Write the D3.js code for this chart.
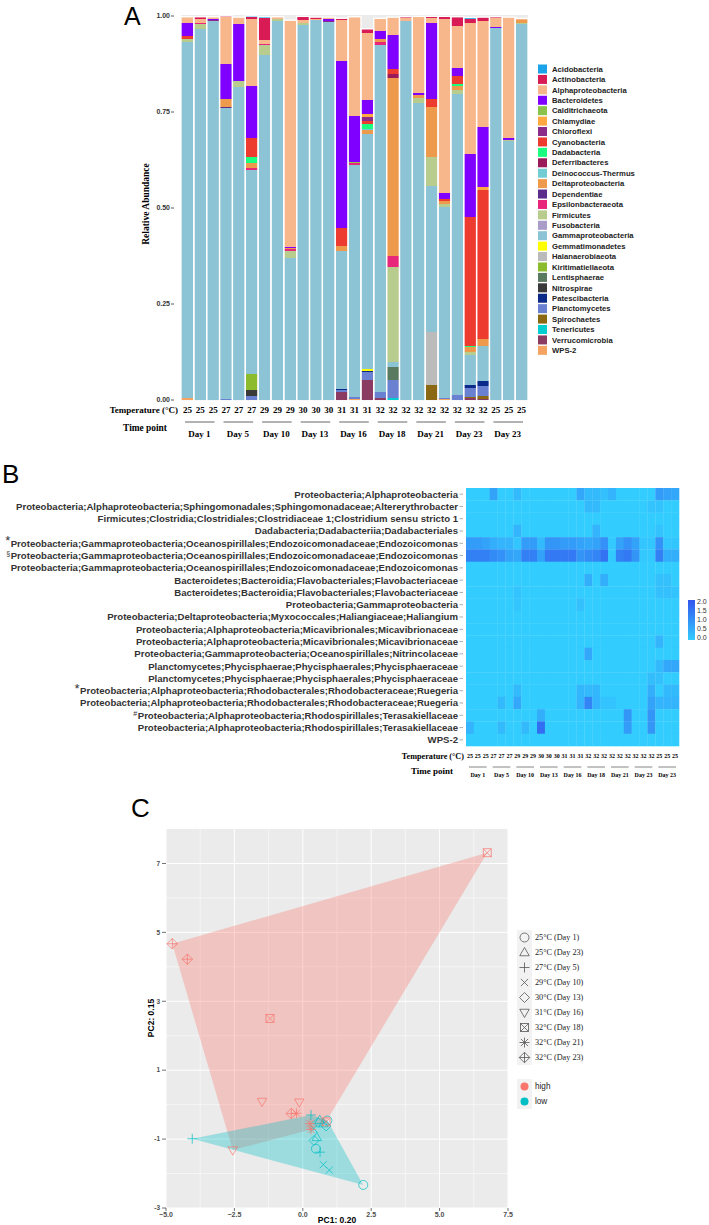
<!DOCTYPE html>
<html><head><meta charset="utf-8">
<script src="https://cdn.jsdelivr.net/npm/d3@7"></script>
<style>body{margin:0;background:#fff}svg{display:block}</style>
</head><body>
<svg id="c" width="709" height="1225"></svg>
<script>
// ================= DATA =================
const phyla = ["Acidobacteria","Actinobacteria","Alphaproteobacteria","Bacteroidetes","Calditrichaeota","Chlamydiae","Chloroflexi","Cyanobacteria","Dadabacteria","Deferribacteres","Deinococcus-Thermus","Deltaproteobacteria","Dependentiae","Epsilonbacteraeota","Firmicutes","Fusobacteria","Gammaproteobacteria","Gemmatimonadetes","Halanaerobiaeota","Kiritimatiellaeota","Lentisphaerae","Nitrospirae","Patescibacteria","Planctomycetes","Spirochaetes","Tenericutes","Verrucomicrobia","WPS-2"];
const phylaColors = ["#1AA3E8","#D81B55","#F8B78A","#8000FF","#8BC34A","#FFA940","#8B2C8B","#EE3B30","#1AFF80","#9B1B5A","#72CCD4","#EE9A4D","#5B2C8B","#E8277A","#B8CC8E","#A99CC8","#8CC3D5","#FFFF00","#BBBBBB","#8DBB2E","#5A7A60","#3A3A3A","#0B2A8A","#6A80D0","#8B6914","#00CED1","#8B3A62","#F4A460"];
const temperatures = [25,25,25,27,27,27,29,29,29,30,30,30,31,31,31,32,32,32,32,32,32,32,32,32,25,25,25];
const dayLabels = ["Day 1","Day 5","Day 10","Day 13","Day 16","Day 18","Day 21","Day 23","Day 23"];

// relative abundance per phylum (27 samples each)
const acidobacteria    = [0,0,0,0,0,.003,.003,0,0,0,0,0,0,0,0,0,0,0,0,0,0,0,.003,0,0,0,0];
const actinobacteria   = [0,.007,0,.003,0,.005,.057,0,0,.009,.004,0,.004,0,.0095,0,0,.003,0,.003,.006,.024,.011,.009,.003,0,0];
const alphaproteo      = [.016,.009,.005,.122,.017,.175,.010,.006,.590,.007,.003,.006,.107,.259,.175,.033,.046,.007,.200,.013,.454,.109,.341,.276,.023,.314,.005];
const bacteroidetes    = [.033,0,.004,.091,.150,.134,0,0,.004,0,0,.003,.434,.119,.036,.021,.090,0,.006,.199,.016,.021,.165,.158,.004,.005,0];
const calditrichaeota  = [0,0,0,0,0,0,0,0,0,0,0,0,0,.003,0,0,0,0,0,0,0,0,0,0,0,0,0];
const chlamydiae       = [0,0,0,0,0,0,0,0,0,0,0,0,0,0,.010,0,0,0,0,0,0,0,0,.007,0,0,0];
const chloroflexi      = [0,0,.002,0,0,0,0,0,0,0,0,.003,0,0,.009,0,0,0,0,0,0,0,0,0,0,0,0];
const cyanobacteria    = [.009,0,0,0,0,.049,0,0,0,0,0,0,.048,0,.007,0,.011,0,0,.022,.005,.020,.335,.389,0,0,0];
const dadabacteria     = [0,0,0,0,0,.016,0,0,0,0,0,0,0,0,.013,0,0,0,0,0,0,.005,.004,0,0,0,0];
const deferribacteres  = [0,0,0,0,0,0,0,0,0,0,0,0,0,0,0,0,.011,0,0,0,0,0,0,0,0,0,0];
const deinococcus      = [0,0,0,0,0,0,0,0,0,0,0,0,0,0,.004,0,0,0,0,0,0,0,0,0,0,0,0];
const deltaproteo      = [0,0,0,.020,0,.014,0,0,.003,0,0,0,.012,0,.010,.009,.464,0,.007,.128,.007,.012,.012,.017,0,0,.006];
const dependentiae     = [0,0,0,.004,0,0,0,0,0,0,0,0,0,0,0,0,0,0,0,0,0,0,0,0,0,0,0];
const epsilonbact      = [0,.003,0,0,0,.004,.004,0,.003,0,0,0,0,.005,0,.006,.028,0,0,0,0,0,0,0,0,0,0];
const firmicutes       = [.007,.014,0,0,.016,0,.026,.004,.020,.006,0,0,0,0,0,0,.247,0,.013,.078,.009,.010,.009,0,0,.004,.004];
const fusobacteria     = [0,0,0,0,0,0,0,0,0,0,0,0,0,0,0,0,0,0,0,0,0,0,0,0,0,0,0];
const gammaproteo      = [.928,.965,.987,.757,.814,.531,.898,.988,.369,.977,.990,.985,.360,.605,.612,.905,.013,.988,.773,.380,.496,.785,.078,.091,.968,.674,.979];
const gemmatimonadetes = [0,0,0,0,0,0,0,0,0,0,0,0,0,0,.005,0,0,0,0,0,0,0,0,0,0,0,0];
const halanaerobiaeota = [0,0,0,0,0,0,0,0,0,0,0,0,0,0,0,0,0,0,0,.137,0,0,0,0,0,0,0];
const kiritimatiellae  = [0,0,0,0,0,.042,0,0,0,0,0,0,0,0,0,0,0,0,0,0,0,0,0,0,0,0,0];
const lentisphaerae    = [0,0,0,0,0,0,0,0,0,0,0,0,0,0,0,0,.035,0,0,0,0,0,0,0,0,0,0];
const nitrospirae      = [0,0,0,0,0,.016,0,0,0,0,0,0,0,0,0,0,0,0,0,0,0,0,0,0,0,0,0];
const patescibacteria  = [0,0,0,0,0,0,0,0,0,0,0,0,.004,0,.004,0,0,0,0,0,0,0,.006,.014,0,0,0];
const planctomycetes   = [0,0,0,.003,0,.011,0,0,0,0,0,0,.004,.004,.020,.016,.046,0,0,0,.003,.012,.023,.026,0,0,0];
const spirochaetes     = [0,0,0,0,0,0,0,0,0,0,0,0,0,0,0,0,0,0,0,.039,0,0,.005,.007,0,0,0];
const tenericutes      = [0,0,0,0,0,0,0,0,0,0,0,0,0,0,0,0,.006,0,0,0,0,0,0,0,0,0,0];
const verrucomicrobia  = [0,0,0,0,0,0,0,0,0,0,0,0,.021,0,.052,.004,0,0,0,0,0,0,.004,.003,0,0,0];
const wps2             = [.005,0,0,0,0,0,0,0,0,0,0,0,0,.003,0,0,0,0,0,0,.003,0,0,0,0,0,0];
const abundanceSeries = [acidobacteria,actinobacteria,alphaproteo,bacteroidetes,calditrichaeota,chlamydiae,chloroflexi,cyanobacteria,dadabacteria,deferribacteres,deinococcus,deltaproteo,dependentiae,epsilonbact,firmicutes,fusobacteria,gammaproteo,gemmatimonadetes,halanaerobiaeota,kiritimatiellae,lentisphaerae,nitrospirae,patescibacteria,planctomycetes,spirochaetes,tenericutes,verrucomicrobia,wps2];

// heatmap (panel B)
const taxaLabels = [
 "Proteobacteria;Alphaproteobacteria",
 "Proteobacteria;Alphaproteobacteria;Sphingomonadales;Sphingomonadaceae;Altererythrobacter",
 "Firmicutes;Clostridia;Clostridiales;Clostridiaceae 1;Clostridium sensu stricto 1",
 "Dadabacteria;Dadabacteriia;Dadabacteriales",
 "Proteobacteria;Gammaproteobacteria;Oceanospirillales;Endozoicomonadaceae;Endozoicomonas",
 "Proteobacteria;Gammaproteobacteria;Oceanospirillales;Endozoicomonadaceae;Endozoicomonas",
 "Proteobacteria;Gammaproteobacteria;Oceanospirillales;Endozoicomonadaceae;Endozoicomonas",
 "Bacteroidetes;Bacteroidia;Flavobacteriales;Flavobacteriaceae",
 "Bacteroidetes;Bacteroidia;Flavobacteriales;Flavobacteriaceae",
 "Proteobacteria;Gammaproteobacteria",
 "Proteobacteria;Deltaproteobacteria;Myxococcales;Haliangiaceae;Haliangium",
 "Proteobacteria;Alphaproteobacteria;Micavibrionales;Micavibrionaceae",
 "Proteobacteria;Alphaproteobacteria;Micavibrionales;Micavibrionaceae",
 "Proteobacteria;Gammaproteobacteria;Oceanospirillales;Nitrincolaceae",
 "Planctomycetes;Phycisphaerae;Phycisphaerales;Phycisphaeraceae",
 "Planctomycetes;Phycisphaerae;Phycisphaerales;Phycisphaeraceae",
 "Proteobacteria;Alphaproteobacteria;Rhodobacterales;Rhodobacteraceae;Ruegeria",
 "Proteobacteria;Alphaproteobacteria;Rhodobacterales;Rhodobacteraceae;Ruegeria",
 "Proteobacteria;Alphaproteobacteria;Rhodospirillales;Terasakiellaceae",
 "Proteobacteria;Alphaproteobacteria;Rhodospirillales;Terasakiellaceae",
 "WPS-2"];
const taxaMarks = ["","","","","*","§","","","","","","","","","","","*","","#","",""];
const heatValues = [
 [0,0,0,.7,0,0,.3,0,0,0,0,0,0,0,.6,.3,.3,.2,.4,0,0,0,0,0,.8,.7,.6],
 [0,0,0,0,0,0,0,0,0,0,0,0,0,0,0,.3,.3,0,0,0,0,0,0,.15,.15,0,0],
 [0,0,0,0,0,0,0,0,0,0,0,0,0,0,0,0,0,0,0,0,0,0,0,0,0,0,0],
 [0,0,0,0,0,0,.4,0,0,0,0,0,0,0,0,0,.4,0,0,0,0,0,0,0,.15,0,0],
 [.8,.8,.7,.5,.4,.4,.1,.8,.8,.3,.9,.9,.8,.8,.7,.6,.7,1.0,.05,.7,1.0,.7,.1,.1,1.0,.1,.1],
 [1.3,1.3,1.3,1.1,1.0,.7,.6,1.3,1.3,.7,1.4,1.4,1.4,1.4,.9,1.1,1.2,1.5,.05,1.3,1.4,.9,.05,.05,1.3,.5,.5],
 [0,0,0,0,0,0,0,0,0,0,0,0,0,0,0,0,0,0,0,0,0,0,0,0,0,0,0],
 [0,0,0,0,0,0,0,0,0,0,0,0,0,0,0,.5,0,.5,0,0,0,0,0,0,.2,.2,0],
 [0,0,0,0,0,0,.15,0,0,0,0,0,0,0,0,0,0,0,0,0,0,0,0,0,.2,.2,.15],
 [0,0,0,0,0,0,.1,0,0,0,0,0,0,0,.2,0,0,0,0,0,0,0,0,0,0,0,0],
 [0,0,0,0,0,0,0,0,0,0,0,0,0,0,0,0,0,0,0,0,0,0,0,0,0,0,0],
 [0,0,0,0,0,0,0,0,0,0,0,0,0,0,0,0,0,0,0,0,0,0,0,0,0,0,0],
 [0,0,0,0,0,0,0,0,0,0,0,0,0,0,0,0,0,0,0,0,0,0,0,0,.4,0,0],
 [0,0,0,0,0,0,0,0,0,0,0,0,0,0,0,.6,0,0,0,0,0,0,0,0,0,0,0],
 [0,0,0,0,0,0,0,0,0,0,0,0,0,0,0,0,0,0,0,0,0,0,0,0,.3,.6,.6],
 [0,0,0,0,0,0,0,0,0,0,0,0,0,0,0,0,0,0,0,0,0,0,0,.25,.2,0,0],
 [0,0,0,0,0,0,.3,0,0,0,0,0,0,0,.35,.3,.35,0,0,0,0,0,0,.5,0,.3,.3],
 [0,0,0,0,.3,0,.6,0,0,0,0,0,0,0,.4,1.2,.4,.15,.15,0,0,0,0,.7,.4,.4,.4],
 [0,0,0,0,0,0,0,0,0,.5,0,0,0,0,0,0,0,0,0,0,.9,0,0,.9,0,0,0],
 [.4,0,0,0,.3,0,0,.3,0,1.6,0,0,0,0,0,0,0,0,0,0,.8,0,0,.9,0,0,0],
 [0,0,0,0,0,0,0,0,0,0,0,0,0,0,0,0,0,0,0,0,0,0,0,0,0,0,0]];
const heatTicks = [0,0.5,1,1.5,2];

// PCA (panel C)
const pcaGroups = ["25°C (Day 1)","25°C (Day 23)","27°C (Day 5)","29°C (Day 10)","30°C (Day 13)","31°C (Day 16)","32°C (Day 18)","32°C (Day 21)","32°C (Day 23)"];
const pcaGroupClass = ["low","low","low","low","low","high","high","high","high"];
const pcaPC1 = [2.21,0.48,0.90, 0.51,0.75,0.62, -4.04,0.63,0.30, 0.75,0.97,0.40, 0.41,0.56,0.85, -1.49,-0.13,-2.56, 6.74,-1.20,0.85, -0.23,0.26,0.30, -4.77,-4.22,-0.42];
const pcaPC2 = [-2.33,-1.28,-0.46, -0.95,-0.55,-0.45, -0.99,-1.38,-0.30, -1.74,-1.90,-0.70, -1.04,-0.52,-0.62, 0.09,0.07,-1.32, 7.31,2.50,-0.50, -0.25,-0.55,-0.72, 4.67,4.22,-0.26];
const pcaGroupOf = [0,0,0,1,1,1,2,2,2,3,3,3,4,4,4,5,5,5,6,6,6,7,7,7,8,8,8];
const classNames = ["high","low"];
const classColors = ["#F8766D","#00BFC4"];
const pcaXTicks = [-5,-2.5,0,2.5,5,7.5];
const pcaYTicks = [-3,-1,1,3,5,7];

// ================= DRAW =================
const svg = d3.select("#c");
const SERIF = "'Liberation Serif','Times New Roman',serif";
const SANS = "'Liberation Sans',Arial,sans-serif";

// ---------- Panel A ----------
svg.append("text").attr("x",124).attr("y",25).attr("font-family",SANS).attr("font-size",25).text("A");
const xA = d3.scaleBand().domain(d3.range(27)).range([181,528]).padding(0);
const yA = d3.scaleLinear().domain([0,1]).range([400,16]);
svg.append("rect").attr("x",181).attr("y",15).attr("width",347).attr("height",386).attr("fill","#EBEBEB");
const rows = d3.range(27).map(i => { const o = {i}; phyla.forEach((p,k)=>o[p]=abundanceSeries[k][i]); return o; });
const stackA = d3.stack().keys(phyla.slice().reverse())(rows);
const colorA = d3.scaleOrdinal().domain(phyla).range(phylaColors);
const gA = svg.append("g");
stackA.forEach(layer => {
  gA.selectAll(null).data(layer).enter().append("rect")
    .attr("x", d => xA(d.data.i)).attr("width", xA.bandwidth())
    .attr("y", d => yA(d[1])).attr("height", d => Math.max(0, yA(d[0]) - yA(d[1])))
    .attr("fill", colorA(layer.key)).attr("shape-rendering","crispEdges");
});
const totals = rows.map(r => d3.sum(phyla, p => r[p]));
gA.selectAll(null).data(d3.range(27)).enter().append("rect")
  .attr("x", i => xA(i)).attr("width", xA.bandwidth())
  .attr("y", i => yA(totals[i])).attr("height", i => yA(0) - yA(totals[i]) + 1)
  .attr("fill","none").attr("stroke","#fff").attr("stroke-width",1.3);
const yTicksA = [0,0.25,0.5,0.75,1];
yTicksA.forEach(t => {
  svg.append("line").attr("x1",171).attr("x2",174).attr("y1",yA(t)).attr("y2",yA(t)).attr("stroke","#333").attr("stroke-width",0.8);
  svg.append("text").attr("x",170).attr("y",yA(t)).attr("dy","0.35em").attr("text-anchor","end")
    .attr("font-family",SANS).attr("font-weight","bold").attr("font-size",7).attr("fill","#333").text(d3.format(".2f")(t));
});
svg.append("text").attr("transform","translate(149,204) rotate(-90)").attr("text-anchor","middle")
  .attr("font-family",SERIF).attr("font-weight","bold").attr("font-size",9.5).text("Relative Abundance");
svg.append("text").attr("x",178).attr("y",410).attr("dy","0.35em").attr("text-anchor","end")
  .attr("font-family",SERIF).attr("font-weight","bold").attr("font-size",9).text("Temperature (°C)");
temperatures.forEach((t,i) => {
  svg.append("text").attr("x",xA(i)+xA.bandwidth()/2).attr("y",410).attr("dy","0.35em").attr("text-anchor","middle")
    .attr("font-family",SERIF).attr("font-weight","bold").attr("font-size",9).text(t);
});
svg.append("text").attr("x",145).attr("y",428).attr("dy","0.35em").attr("text-anchor","middle")
  .attr("font-family",SERIF).attr("font-weight","bold").attr("font-size",9.4).text("Time point");
dayLabels.forEach((d,g) => {
  const x0 = xA(3*g), x1 = xA(3*g+2) + xA.bandwidth();
  svg.append("line").attr("x1",x0+4).attr("x2",x1-5).attr("y1",422).attr("y2",422).attr("stroke","#666").attr("stroke-width",1);
  svg.append("text").attr("x",(x0+x1)/2-1).attr("y",434).attr("dy","0.35em").attr("text-anchor","middle")
    .attr("font-family",SERIF).attr("font-weight","bold").attr("font-size",9).text(d);
});
phyla.forEach((p,k) => {
  const cy = 69 + k*10.42;
  svg.append("rect").attr("x",538).attr("y",cy-4.5).attr("width",9).attr("height",9).attr("fill",phylaColors[k]);
  svg.append("text").attr("x",552).attr("y",cy).attr("dy","0.35em").attr("font-family",SANS)
    .attr("font-weight","bold").attr("font-size",7.7).attr("fill","#222").text(p);
});

// ---------- Panel B ----------
svg.append("text").attr("x",2).attr("y",483).attr("font-family",SANS).attr("font-size",26).text("B");
const xH = d3.scaleBand().domain(d3.range(27)).range([466,679]);
const yH = d3.scaleBand().domain(d3.range(21)).range([488,746]);
const colorH = d3.scaleLinear().domain([0,2]).range(["#33CCFF","#3355EE"]);
heatValues.forEach((row,r) => {
  svg.selectAll(null).data(row).enter().append("rect")
    .attr("x",(d,c)=>xH(c)).attr("y",yH(r)).attr("width",xH.bandwidth()+0.3).attr("height",yH.bandwidth()+0.3)
    .attr("fill",d=>colorH(d));
});
taxaLabels.forEach((lab,r) => {
  const cy = yH(r) + yH.bandwidth()/2;
  svg.append("line").attr("x1",459.5).attr("x2",463).attr("y1",cy).attr("y2",cy).attr("stroke","#888").attr("stroke-width",0.7);
  const t = svg.append("text").attr("x",458).attr("y",cy).attr("dy","0.35em").attr("text-anchor","end")
    .attr("font-family",SANS).attr("font-weight","bold").attr("font-size",9.6).attr("fill","#333").text(lab);
  if (taxaMarks[r]) {
    const w = t.node().getComputedTextLength();
    const m = taxaMarks[r];
    const big = m === "*";
    svg.append("text").attr("x",458 - w - 0.5).attr("y", cy + (big ? 2 : 0.5)).attr("text-anchor","end")
      .attr("font-family",SANS).attr("font-size", big ? 13 : 7).attr("fill","#333").text(m);
  }
});
const defs = svg.append("defs");
const grad = defs.append("linearGradient").attr("id","hg").attr("x1",0).attr("y1",1).attr("x2",0).attr("y2",0);
grad.append("stop").attr("offset","0%").attr("stop-color",colorH(0));
grad.append("stop").attr("offset","100%").attr("stop-color",colorH(2));
const yCB = d3.scaleLinear().domain([0,2]).range([638,602]);
svg.append("rect").attr("x",688).attr("y",600).attr("width",7).attr("height",40).attr("fill","url(#hg)");
heatTicks.forEach(t => {
  svg.append("text").attr("x",697).attr("y",yCB(t)).attr("dy","0.35em").attr("font-family",SANS)
    .attr("font-size",7).attr("fill","#333").text(d3.format(".1f")(t));
});
svg.append("text").attr("x",464).attr("y",756).attr("dy","0.35em").attr("text-anchor","end")
  .attr("font-family",SERIF).attr("font-weight","bold").attr("font-size",8.2).text("Temperature (°C)");
temperatures.forEach((t,i) => {
  svg.append("text").attr("x",xH(i)+xH.bandwidth()/2).attr("y",756).attr("dy","0.35em").attr("text-anchor","middle")
    .attr("font-family",SERIF).attr("font-weight","bold").attr("font-size",6).text(t);
});
svg.append("text").attr("x",432).attr("y",771).attr("dy","0.35em").attr("text-anchor","middle")
  .attr("font-family",SERIF).attr("font-weight","bold").attr("font-size",9).text("Time point");
dayLabels.forEach((d,g) => {
  const x0 = xH(3*g), x1 = xH(3*g+2) + xH.bandwidth();
  svg.append("line").attr("x1",x0+3).attr("x2",x1-3).attr("y1",767).attr("y2",767).attr("stroke","#666").attr("stroke-width",0.8);
  svg.append("text").attr("x",(x0+x1)/2).attr("y",775).attr("dy","0.35em").attr("text-anchor","middle")
    .attr("font-family",SERIF).attr("font-weight","bold").attr("font-size",6).text(d);
});

// ---------- Panel C ----------
svg.append("text").attr("x",131).attr("y",817).attr("font-family",SANS).attr("font-size",26).text("C");
const xC = d3.scaleLinear().domain([-5,7.5]).range([166,508]);
const yC = d3.scaleLinear().domain([-3,8]).range([1208,829]);
svg.append("rect").attr("x",166).attr("y",829).attr("width",342).attr("height",379).attr("fill","#EBEBEB");
const gGrid = svg.append("g");
[-3.75,-1.25,1.25,3.75,6.25].forEach(v => gGrid.append("line").attr("x1",xC(v)).attr("x2",xC(v)).attr("y1",829).attr("y2",1208).attr("stroke","#fff").attr("stroke-width",0.5));
[-2,0,2,4,6].forEach(v => gGrid.append("line").attr("y1",yC(v)).attr("y2",yC(v)).attr("x1",166).attr("x2",508).attr("stroke","#fff").attr("stroke-width",0.5));
pcaXTicks.forEach(v => gGrid.append("line").attr("x1",xC(v)).attr("x2",xC(v)).attr("y1",829).attr("y2",1208).attr("stroke","#fff").attr("stroke-width",1));
pcaYTicks.forEach(v => gGrid.append("line").attr("y1",yC(v)).attr("y2",yC(v)).attr("x1",166).attr("x2",508).attr("stroke","#fff").attr("stroke-width",1));
classNames.forEach((cls,ci) => {
  const pts = d3.range(pcaPC1.length).filter(i => pcaGroupClass[pcaGroupOf[i]] === cls).map(i => [xC(pcaPC1[i]), yC(pcaPC2[i])]);
  const hull = d3.polygonHull(pts);
  svg.append("path").attr("d","M"+hull.join("L")+"Z").attr("fill",classColors[ci]).attr("fill-opacity",0.33);
});
function drawShape(g, k, cx, cy, s, col, sw) {
  const gg = g.append("g").attr("transform",`translate(${cx},${cy})`).attr("fill","none").attr("stroke",col).attr("stroke-width",sw);
  const ln = (a,b,c,d) => gg.append("line").attr("x1",a).attr("y1",b).attr("x2",c).attr("y2",d);
  const a = s*0.72;
  if (k===0) gg.append("circle").attr("r",s*0.9);
  if (k===1) gg.append("path").attr("d",`M0,${-s}L${s*0.95},${s*0.65}L${-s*0.95},${s*0.65}Z`);
  if (k===2) { ln(-s,0,s,0); ln(0,-s,0,s); }
  if (k===3) { ln(-a,-a,a,a); ln(-a,a,a,-a); }
  if (k===4) gg.append("path").attr("d",`M0,${-s}L${s},0L0,${s}L${-s},0Z`);
  if (k===5) gg.append("path").attr("d",`M0,${s}L${s*0.95},${-s*0.65}L${-s*0.95},${-s*0.65}Z`);
  if (k===6) { const h=s*0.8; gg.append("rect").attr("x",-h).attr("y",-h).attr("width",2*h).attr("height",2*h); ln(-h,-h,h,h); ln(-h,h,h,-h); }
  if (k===7) { ln(-s,0,s,0); ln(0,-s,0,s); ln(-a,-a,a,a); ln(-a,a,a,-a); }
  if (k===8) { const q=s*1.05; gg.append("path").attr("d",`M0,${-q}L${q},0L0,${q}L${-q},0Z`); ln(-q,0,q,0); ln(0,-q,0,q); }
}
const gPts = svg.append("g");
pcaPC1.forEach((v,i) => {
  const gi = pcaGroupOf[i];
  const col = classColors[classNames.indexOf(pcaGroupClass[gi])];
  drawShape(gPts, gi, xC(v), yC(pcaPC2[i]), 5, col, 0.7);
});
pcaYTicks.forEach(v => {
  svg.append("line").attr("x1",162).attr("x2",166).attr("y1",yC(v)).attr("y2",yC(v)).attr("stroke","#333").attr("stroke-width",0.7);
  svg.append("text").attr("x",160).attr("y",yC(v)).attr("dy","0.35em").attr("text-anchor","end")
    .attr("font-family",SANS).attr("font-weight","bold").attr("font-size",6.5).attr("fill","#4D4D4D").text(v);
});
pcaXTicks.forEach(v => {
  svg.append("line").attr("x1",xC(v)).attr("x2",xC(v)).attr("y1",1208).attr("y2",1211).attr("stroke","#333").attr("stroke-width",0.7);
  svg.append("text").attr("x",xC(v)).attr("y",1217).attr("text-anchor","middle")
    .attr("font-family",SANS).attr("font-weight","bold").attr("font-size",7).attr("fill","#4D4D4D").text(d3.format(".1f")(v));
});
svg.append("text").attr("x",337).attr("y",1222.5).attr("text-anchor","middle")
  .attr("font-family",SANS).attr("font-weight","bold").attr("font-size",8.5).text("PC1: 0.20");
svg.append("text").attr("transform","translate(154,1018) rotate(-90)").attr("text-anchor","middle")
  .attr("font-family",SANS).attr("font-weight","bold").attr("font-size",8.5).text("PC2: 0.15");
svg.append("rect").attr("x",517).attr("y",930).attr("width",15).attr("height",9*15).attr("fill","#F2F2F2");
pcaGroups.forEach((gname,k) => {
  const cy = 937.5 + k*15;
  drawShape(svg, k, 524.5, cy, 5, "#555", 0.8);
  svg.append("text").attr("x",535).attr("y",cy).attr("dy","0.35em").attr("font-family",SERIF)
    .attr("font-size",8.2).attr("fill","#222").text(gname);
});
svg.append("rect").attr("x",517).attr("y",1079).attr("width",15).attr("height",30).attr("fill","#F2F2F2");
classNames.forEach((c,k) => {
  const cy = 1086.5 + k*15;
  svg.append("circle").attr("cx",524.5).attr("cy",cy).attr("r",4).attr("fill",classColors[k]);
  svg.append("text").attr("x",535).attr("y",cy).attr("dy","0.35em").attr("font-family",SANS)
    .attr("font-size",8.2).attr("fill","#222").text(c);
});
</script></body></html>
